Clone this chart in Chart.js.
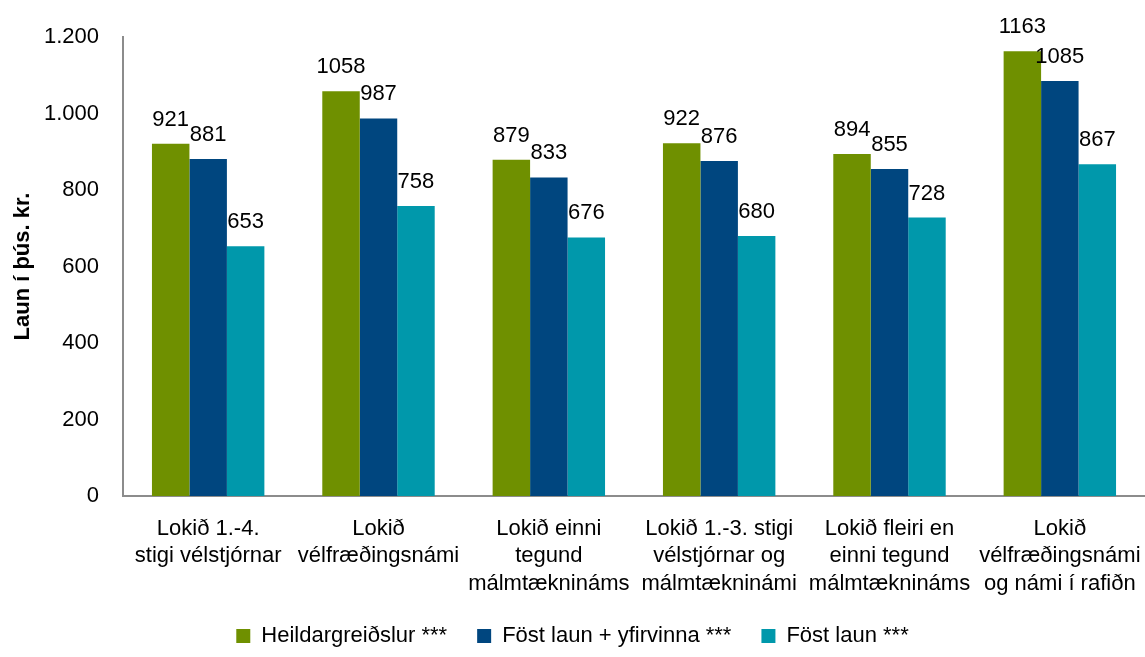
<!DOCTYPE html>
<html>
<head>
<meta charset="utf-8">
<script src="https://cdn.jsdelivr.net/npm/chart.js@4"></script>
<style>
  html, body { margin: 0; padding: 0; background: #fff; }
  #wrap { width: 1145px; height: 657px; }
</style>
</head>
<body>
<div id="wrap"><canvas id="chart" width="1145" height="657"></canvas></div>
<script>
const categories = [
  ["Lokið 1.-4.", "stigi vélstjórnar"],
  ["Lokið", "vélfræðingsnámi"],
  ["Lokið einni", "tegund", "málmtæknináms"],
  ["Lokið 1.-3. stigi", "vélstjórnar og", "málmtækninámi"],
  ["Lokið fleiri en", "einni tegund", "málmtæknináms"],
  ["Lokið", "vélfræðingsnámi", "og námi í rafiðn"],
];
const heildar = [921, 1058, 879, 922, 894, 1163];
const fostYfirvinna = [881, 987, 833, 876, 855, 1085];
const fostLaun = [653, 758, 676, 680, 728, 867];
const yTicks = [0, 200, 400, 600, 800, 1000, 1200];

const font = "'Liberation Sans', Arial, sans-serif";

// value labels above each bar
const barLabels = {
  id: "barLabels",
  afterDatasetsDraw(chart) {
    const ctx = chart.ctx;
    ctx.save();
    ctx.font = "22px " + font;
    ctx.fillStyle = "#000";
    ctx.textAlign = "center";
    ctx.textBaseline = "alphabetic";
    chart.data.datasets.forEach((ds, i) => {
      chart.getDatasetMeta(i).data.forEach((bar, j) => {
        ctx.fillText(String(ds.data[j]), bar.x, bar.y - 18);
      });
    });
    ctx.restore();
  },
};

window.onload = () => {
  const ctx = document.getElementById("chart");
  new Chart(ctx, {
    type: "bar",
    data: {
      labels: categories,
      datasets: [
        { label: "Heildargreiðslur ***", data: heildar, backgroundColor: "#6f9000" },
        { label: "Föst laun + yfirvinna ***", data: fostYfirvinna, backgroundColor: "#00467f" },
        { label: "Föst laun ***", data: fostLaun, backgroundColor: "#0098ab" },
      ],
    },
    options: {
      responsive: false,
      animation: false,
      devicePixelRatio: 1,
      layout: { padding: { top: 37, right: 0, left: 0, bottom: 0 } },
      datasets: { bar: { barPercentage: 1, categoryPercentage: 0.66 } },
      plugins: {
        legend: {
          position: "bottom",
          labels: {
            font: { family: font, size: 22 },
            color: "#000",
            boxWidth: 14,
            boxHeight: 14,
            padding: 30,
          },
        },
        tooltip: { enabled: false },
      },
      scales: {
        x: {
          grid: { display: false },
          border: { display: true, color: "#8c8c8c", width: 2 },
          ticks: {
            font: { family: font, size: 22, lineHeight: 1.25 },
            color: "#000",
            maxRotation: 0,
            autoSkip: false,
            padding: 11,
          },
          afterFit: (scale) => {
            scale.height = 99;
            scale.paddingLeft = 0;
            scale.paddingRight = 0;
          },
        },
        y: {
          min: 0,
          max: 1200,
          afterBuildTicks: (scale) => { scale.ticks = yTicks.map((v) => ({ value: v })); },
          grid: { display: false },
          border: { display: true, color: "#8c8c8c", width: 2 },
          ticks: {
            font: { family: font, size: 22 },
            color: "#000",
            padding: 16,
            callback: (v) => String(v).replace(/\B(?=(\d{3})+(?!\d))/g, "."),
          },
          title: {
            display: true,
            text: "Laun í þús. kr.",
            font: { family: font, size: 22, weight: "bold" },
            color: "#000",
            padding: { top: 10, bottom: 0 },
          },
          afterFit: (scale) => { scale.width = 123; },
        },
      },
    },
    plugins: [barLabels],
  });
};
</script>
</body>
</html>
